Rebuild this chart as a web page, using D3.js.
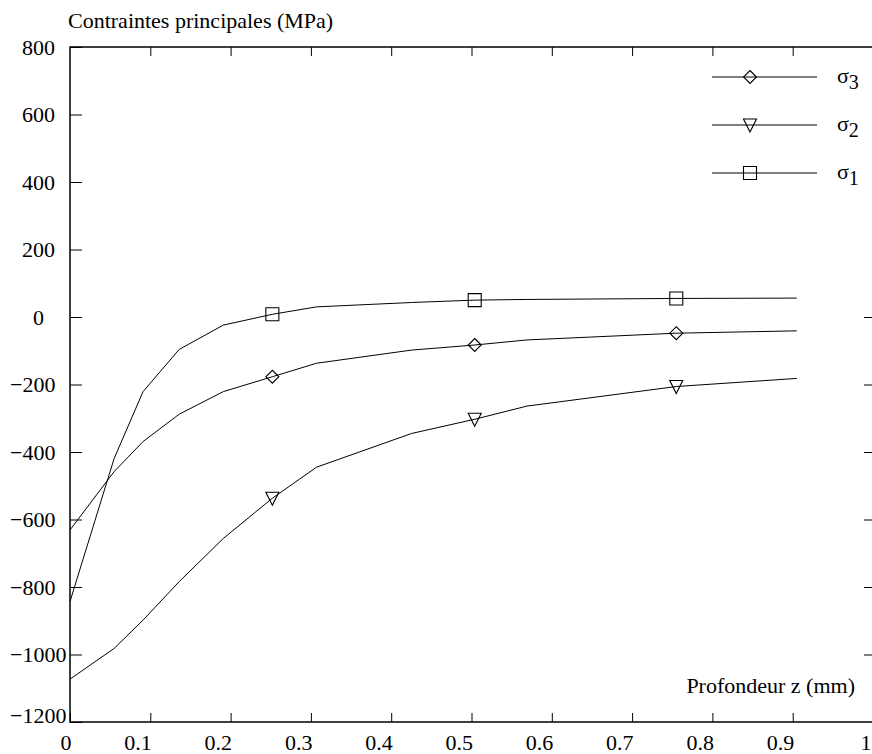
<!DOCTYPE html>
<html>
<head>
<meta charset="utf-8">
<script src="https://cdn.jsdelivr.net/npm/d3@7"></script>
<style>
  html, body { margin: 0; padding: 0; background: #fff; }
  svg { display: block; }
  svg text { font-family: "Times New Roman", Times, "Liberation Serif", serif; }
</style>
</head>
<body>
<svg id="chart" width="872" height="754"></svg>
<script>
// ---- data ----
const depth  = [0, 0.055, 0.091, 0.136, 0.191, 0.252, 0.307, 0.4255, 0.504, 0.569, 0.755, 0.905];
const sigma1 = [-843, -419, -221, -96, -24, 8, 30, 43, 50, 52, 55, 56];
const sigma2 = [-1073, -982, -898, -784, -656, -537, -445, -345, -303, -264, -206, -182];
const sigma3 = [-631, -458, -369, -288, -221, -177, -137, -98, -83, -68, -48, -41];
const markerDepths = [0.252, 0.504, 0.755];

const seriesNames   = ["σ3", "σ2", "σ1"];
const seriesSymbols = ["diamond", "triangle", "square"];

const xTicks = [0, 0.1, 0.2, 0.3, 0.4, 0.5, 0.6, 0.7, 0.8, 0.9, 1];
const xTickLabels = ["0", "0.1", "0.2", "0.3", "0.4", "0.5", "0.6", "0.7", "0.8", "0.9", "1"];
const yTicks = [-1200, -1000, -800, -600, -400, -200, 0, 200, 400, 600, 800];
const yTickLabels = ["\u22121200", "\u22121000", "\u2212800", "\u2212600", "\u2212400", "\u2212200", "0", "200", "400", "600", "800"];

const yTitle = "Contraintes principales (MPa)";
const xTitle = "Profondeur z (mm)";

(function () {
const svg = d3.select("#chart");
const pL = 70, pR = 873, pT = 47, pB = 722;
const x = d3.scaleLinear().domain([0, 1]).range([pL, pR]);
const y = d3.scaleLinear().domain([-1200, 800]).range([pB, pT]);
const FS = 22;
const FONT = '"Times New Roman", Times, "Liberation Serif", serif';

const series = [
  { name: seriesNames[0], symbol: seriesSymbols[0], values: sigma3 },
  { name: seriesNames[1], symbol: seriesSymbols[1], values: sigma2 },
  { name: seriesNames[2], symbol: seriesSymbols[2], values: sigma1 }
];

function symbolPath(type, s) {
  const h = s / 2;
  if (type === "square") return `M${-h},${-h}H${h}V${h}H${-h}Z`;
  if (type === "diamond") return `M0,${-h}L${h},0L0,${h}L${-h},0Z`;
  return `M${-h},${-h+0.5}H${h}L0,${h+0.5}Z`;
}

const axisStyle = g => {
  g.selectAll(".domain").remove();
  g.selectAll("line").attr("stroke", "#000").attr("stroke-width", 1);
};

const bottomAxis = svg.append("g")
  .attr("transform", `translate(0,${pB})`)
  .call(d3.axisBottom(x).tickValues(xTicks).tickSizeInner(-9).tickSizeOuter(0)
        .tickFormat((d, i) => xTickLabels[i]))
  .call(axisStyle);
bottomAxis.selectAll("text")
  .attr("y", 28).attr("dy", null)
  .attr("x", d => Math.min(1, 871 - x(d)))
  .attr("text-anchor", "end")
  .attr("font-size", FS).attr("font-family", FONT).attr("fill", "#000");

svg.append("g")
  .attr("transform", `translate(0,${pT})`)
  .call(d3.axisTop(x).tickValues(xTicks.filter(d => d > 0 && d < 1)).tickSizeInner(-9).tickSizeOuter(0).tickFormat(""))
  .call(axisStyle);

const yMin = d3.min(yTicks);
const leftAxis = svg.append("g")
  .attr("transform", `translate(${pL},0)`)
  .call(d3.axisLeft(y).tickValues(yTicks).tickSizeInner(-12).tickSizeOuter(0)
        .tickFormat((d, i) => yTickLabels[i]))
  .call(axisStyle);
leftAxis.selectAll("text")
  .attr("dy", d => d === yMin ? "0" : "0.34em")
  .attr("x", d => d < 0 ? 10 - pL : 38.5 - pL)
  .attr("text-anchor", d => d < 0 ? "start" : "middle")
  .attr("font-size", FS).attr("font-family", FONT).attr("fill", "#000");

svg.append("g")
  .attr("transform", `translate(${pR},0)`)
  .call(d3.axisRight(y).tickValues(yTicks.filter(d => d > -1200 && d < 800)).tickSizeInner(-9).tickSizeOuter(0).tickFormat(""))
  .call(axisStyle);

svg.append("path")
  .attr("d", `M${pR},${pT}H${pL}V${pB}H${pR}V${pT}`)
  .attr("fill", "none").attr("stroke", "#000").attr("stroke-width", 1.5);

const line = d3.line().x((d, i) => x(depth[i])).y(d => y(d));
series.forEach(s => {
  svg.append("path")
    .attr("d", line(s.values))
    .attr("fill", "none").attr("stroke", "#000").attr("stroke-width", 1);
  const pts = depth.map((d, i) => ({ d, v: s.values[i] })).filter(p => markerDepths.includes(p.d));
  svg.selectAll(null).data(pts).enter().append("path")
    .attr("transform", p => `translate(${x(p.d)},${y(p.v)})`)
    .attr("d", symbolPath(s.symbol, 13))
    .attr("fill", "none").attr("stroke", "#000").attr("stroke-width", 1.1);
});

const lg = svg.append("g");
lg.append("rect").attr("x", 700).attr("y", 58).attr("width", 180).attr("height", 205).attr("fill", "#fff");
series.forEach((s, i) => {
  const ly = 77 + i * 48;
  lg.append("line").attr("x1", 712).attr("x2", 817).attr("y1", ly).attr("y2", ly)
    .attr("stroke", "#000").attr("stroke-width", 1);
  lg.append("path").attr("transform", `translate(750,${ly})`)
    .attr("d", symbolPath(s.symbol, 13))
    .attr("fill", "none").attr("stroke", "#000").attr("stroke-width", 1.1);
  const t = lg.append("text").attr("x", 837).attr("y", ly + 6)
    .attr("font-size", FS).attr("font-family", FONT).attr("fill", "#000");
  t.append("tspan").text(s.name.charAt(0));
  t.append("tspan").attr("dy", 6).attr("font-size", 20).text(s.name.slice(1));
});

svg.append("text").attr("x", 68).attr("y", 28).attr("font-size", FS).attr("font-family", FONT).attr("fill", "#000").text(yTitle);
svg.append("text").attr("x", 855).attr("y", 693).attr("text-anchor", "end").attr("font-size", FS).attr("font-family", FONT).attr("fill", "#000").text(xTitle);
})();
</script>
</body>
</html>
